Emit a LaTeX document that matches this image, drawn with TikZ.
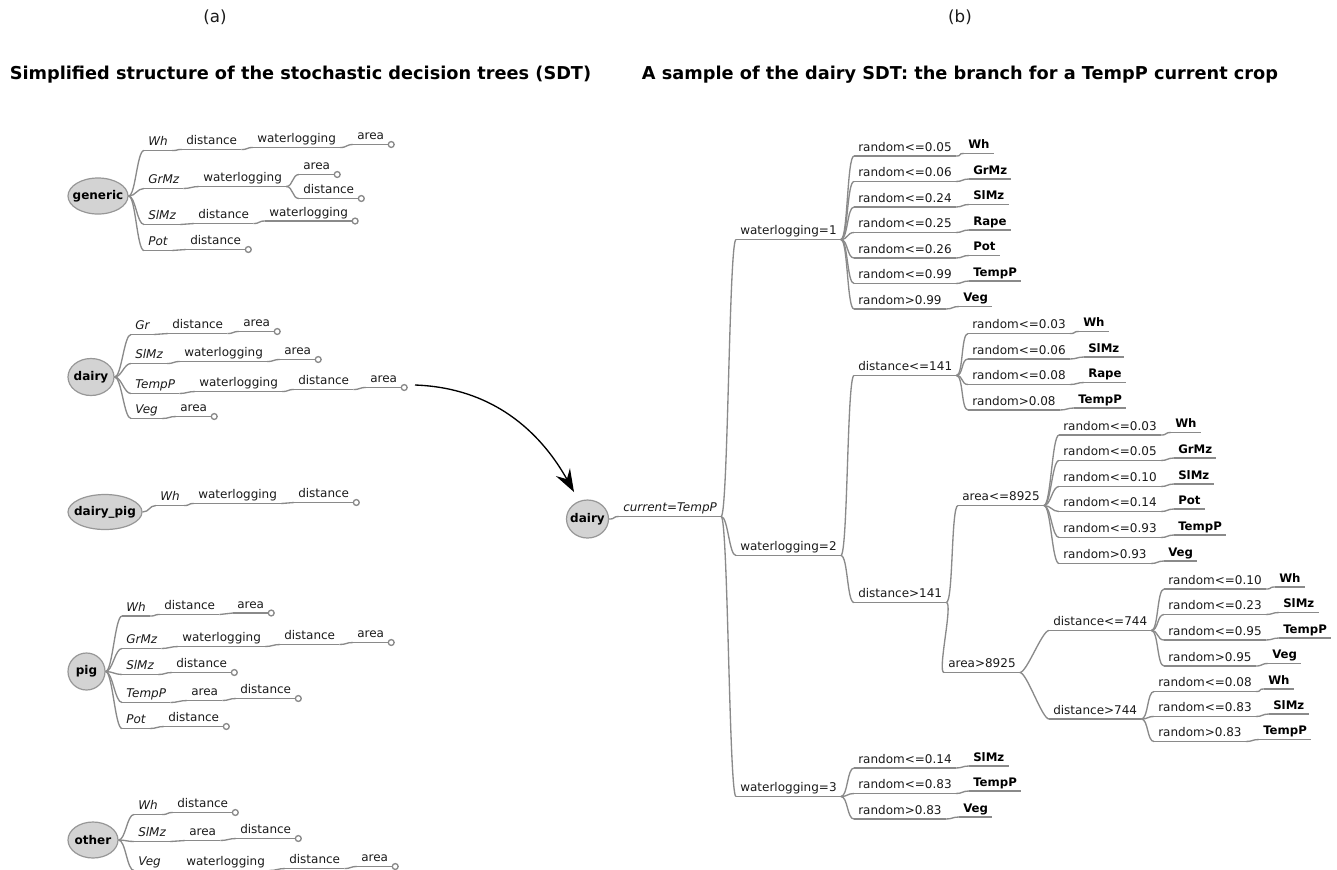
\documentclass[tikz,border=0pt]{standalone}
\usepackage{fontspec}
\setmainfont{DejaVu Sans}
\usetikzlibrary{shapes.geometric,arrows.meta}
\definecolor{lgray}{HTML}{8A8A8A}
\definecolor{efill}{HTML}{D3D3D3}
\definecolor{eborder}{HTML}{979797}
\definecolor{txt}{HTML}{1A1A1A}
\tikzset{
 ln/.style={draw=lgray, line width=1pt},
 lab/.style={anchor=south west, inner xsep=3pt, inner ysep=1.2pt, text height=7pt, text depth=2.2pt,
   font=\fontsize{9}{10}\selectfont, text=txt,
   append after command={(\tikzlastnode.south west) edge[ln] (\tikzlastnode.south east)}},
 itl/.style={lab, font=\fontsize{9}{10}\selectfont\itshape},
 lf/.style={lab, font=\fontsize{8.8}{10}\selectfont\bfseries, text=black},
 ell/.style={ellipse, draw=eborder, fill=efill, line width=0.9pt, inner sep=0pt,
   font=\fontsize{9}{10}\selectfont\bfseries, text=black},
 endc/.style={ln, fill=white},
 ttl/.style={font=\fontsize{13.3}{15}\selectfont\bfseries, text=black},
 sub/.style={font=\fontsize{12.5}{14}\selectfont, text=txt},
 arr/.style={draw=black, line width=1pt, -{Stealth[length=17pt,width=12pt,inset=6pt]}},
}
\newcommand\mmlink[2]{\draw[ln] (#1.south east) .. controls +(7,0) and +(-7,0) .. (#2.south west);}
\newcommand\mmroot[2]{\draw[ln] (#1.east) .. controls +(7,0) and +(-7,0) .. (#2.south west);}
\newcommand\mmtip[1]{\draw[endc] ([xshift=2.2pt]#1.south east) circle[radius=2.2pt];}
\begin{document}
\begin{tikzpicture}[x=0.75pt,y=-0.75pt]
\useasboundingbox (0,0) rectangle (1337,869);

% titles
\node[sub] (la) at (215,17) {(a)};
\node[sub] (lb) at (960,17) {(b)};
\node[ttl] (t1) at (300.5,75) {Simplified structure of the stochastic decision trees (SDT)};
\node[ttl] (t2) at (960,75) {A sample of the dairy SDT: the branch for a TempP current crop};

% ---------------- generic
\node[ell, minimum width=45pt, minimum height=27pt] (g) at (98,196) {\makebox[0pt]{generic}};
\node[itl] (gA) at (144,150.5) {Wh};
\node[lab] (gA1) at (182,149.5) {distance};
\node[lab] (gA2) at (253,147.5) {waterlogging};
\node[lab] (gA3) at (353,144.5) {area};
\node[itl] (gB) at (144,188.5) {GrMz};
\node[lab] (gB1) at (199,186.5) {waterlogging};
\node[lab] (gB2) at (299,174.5) {area};
\node[lab] (gB3) at (299,198.5) {distance};
\node[itl] (gC) at (144,224.5) {SlMz};
\node[lab] (gC1) at (194,223.5) {distance};
\node[lab] (gC2) at (265,221) {waterlogging};
\node[itl] (gD) at (144,250.5) {Pot};
\node[lab] (gD1) at (186,249.5) {distance};
\mmroot{g}{gA}\mmroot{g}{gB}\mmroot{g}{gC}\mmroot{g}{gD}
\mmlink{gA}{gA1}\mmlink{gA1}{gA2}\mmlink{gA2}{gA3}
\mmlink{gB}{gB1}\mmlink{gB1}{gB2}\mmlink{gB1}{gB3}
\mmlink{gC}{gC1}\mmlink{gC1}{gC2}
\mmlink{gD}{gD1}
\mmtip{gA3}\mmtip{gB2}\mmtip{gB3}\mmtip{gC2}\mmtip{gD1}

% ---------------- dairy
\node[ell, minimum width=34.5pt, minimum height=27.75pt] (d) at (91,377) {\makebox[0pt]{dairy}};
\node[itl] (dA) at (131,334.5) {Gr};
\node[lab] (dA1) at (168,333.5) {distance};
\node[lab] (dA2) at (239,331.5) {area};
\node[itl] (dB) at (131,363.5) {SlMz};
\node[lab] (dB1) at (180,361.5) {waterlogging};
\node[lab] (dB2) at (280,359.5) {area};
\node[itl] (dC) at (131,393.5) {TempP};
\node[lab] (dC1) at (195,391.5) {waterlogging};
\node[lab] (dC2) at (294,389.5) {distance};
\node[lab] (dC3) at (366,387.5) {area};
\node[itl] (dD) at (131,418.5) {Veg};
\node[lab] (dD1) at (176,416.5) {area};
\mmroot{d}{dA}\mmroot{d}{dB}\mmroot{d}{dC}\mmroot{d}{dD}
\mmlink{dA}{dA1}\mmlink{dA1}{dA2}
\mmlink{dB}{dB1}\mmlink{dB1}{dB2}
\mmlink{dC}{dC1}\mmlink{dC1}{dC2}\mmlink{dC2}{dC3}
\mmlink{dD}{dD1}
\mmtip{dA2}\mmtip{dB2}\mmtip{dC3}\mmtip{dD1}

% ---------------- dairy_pig
\node[ell, minimum width=55.5pt, minimum height=26.25pt] (dp) at (105,512) {\makebox[0pt]{dairy\_pig}};
\node[itl] (pA) at (156,505.5) {Wh};
\node[lab] (pA1) at (194,503.5) {waterlogging};
\node[lab] (pA2) at (294,502.5) {distance};
\mmroot{dp}{pA}
\mmlink{pA}{pA1}\mmlink{pA1}{pA2}
\mmtip{pA2}

% ---------------- pig
\node[ell, minimum width=27.75pt, minimum height=27.75pt] (pg) at (86.5,671.5) {\makebox[0pt]{pig}};
\node[itl] (qA) at (122,616) {Wh};
\node[lab] (qA1) at (160,614.5) {distance};
\node[lab] (qA2) at (233,613) {area};
\node[itl] (qB) at (122,648.5) {GrMz};
\node[lab] (qB1) at (178,646.5) {waterlogging};
\node[lab] (qB2) at (280,644.5) {distance};
\node[lab] (qB3) at (353,642.5) {area};
\node[itl] (qC) at (122,674.5) {SlMz};
\node[lab] (qC1) at (172,672.5) {distance};
\node[itl] (qD) at (122,702.5) {TempP};
\node[lab] (qD1) at (187,700.5) {area};
\node[lab] (qD2) at (236,698.5) {distance};
\node[itl] (qE) at (122,728.5) {Pot};
\node[lab] (qE1) at (164,726.5) {distance};
\mmroot{pg}{qA}\mmroot{pg}{qB}\mmroot{pg}{qC}\mmroot{pg}{qD}\mmroot{pg}{qE}
\mmlink{qA}{qA1}\mmlink{qA1}{qA2}
\mmlink{qB}{qB1}\mmlink{qB1}{qB2}\mmlink{qB2}{qB3}
\mmlink{qC}{qC1}
\mmlink{qD}{qD1}\mmlink{qD1}{qD2}
\mmlink{qE}{qE1}
\mmtip{qA2}\mmtip{qB3}\mmtip{qC1}\mmtip{qD2}\mmtip{qE1}

% ---------------- other
\node[ell, minimum width=37.5pt, minimum height=27pt] (ot) at (93,840) {\makebox[0pt]{other}};
\node[itl] (oA) at (134,814.5) {Wh};
\node[lab] (oA1) at (173,812.5) {distance};
\node[itl] (oB) at (134,841.5) {SlMz};
\node[lab] (oB1) at (185,840.5) {area};
\node[lab] (oB2) at (236,838.5) {distance};
\node[itl] (oC) at (134,870.5) {Veg};
\node[lab] (oC1) at (182,870.5) {waterlogging};
\node[lab] (oC2) at (285,868.5) {distance};
\node[lab] (oC3) at (357,866.5) {area};
\mmroot{ot}{oA}\mmroot{ot}{oB}\mmroot{ot}{oC}
\mmlink{oA}{oA1}
\mmlink{oB}{oB1}\mmlink{oB1}{oB2}
\mmlink{oC}{oC1}\mmlink{oC1}{oC2}\mmlink{oC2}{oC3}
\mmtip{oA1}\mmtip{oB2}\mmtip{oC3}

% ---------------- arrow
\coordinate (aS) at (415,385);
\coordinate (aE) at (574,492);
\draw[arr] (aS) .. controls (500,388) and (545,440) .. (aE);

% ---------------- right: dairy SDT
\node[ell, minimum width=31.5pt, minimum height=28.5pt] (rd) at (587.5,519) {\makebox[0pt]{dairy}};
\node[itl] (c0) at (619,516.5) {current=TempP};
\mmroot{rd}{c0}

% waterlogging=1
\node[lab] (w1) at (736,239.5) {waterlogging=1};
\mmlink{c0}{w1}
\node[lab] (w1r1) at (854,156) {random<=0.05};
\node[lab] (w1r2) at (854,181.5) {random<=0.06};
\node[lab] (w1r3) at (854,207) {random<=0.24};
\node[lab] (w1r4) at (854,232.5) {random<=0.25};
\node[lab] (w1r5) at (854,258) {random<=0.26};
\node[lab] (w1r6) at (854,283.5) {random<=0.99};
\node[lab] (w1r7) at (854,309) {random>0.99};
\node[lf] (w1l1) at (964,153.5) {Wh};
\node[lf] (w1l2) at (969,179) {GrMz};
\node[lf] (w1l3) at (969,204.5) {SlMz};
\node[lf] (w1l4) at (969,230) {Rape};
\node[lf] (w1l5) at (969,255.5) {Pot};
\node[lf] (w1l6) at (969,281) {TempP};
\node[lf] (w1l7) at (959,306.5) {Veg};
\foreach \i in {1,...,7}{\mmlink{w1}{w1r\i}\mmlink{w1r\i}{w1l\i}}

% waterlogging=2
\node[lab] (w2) at (736,555.5) {waterlogging=2};
\mmlink{c0}{w2}
\node[lab] (e1) at (854,375.5) {distance<=141};
\node[lab] (e2) at (854,602.5) {distance>141};
\mmlink{w2}{e1}\mmlink{w2}{e2}
\node[lab] (e1r1) at (968,333.5) {random<=0.03};
\node[lab] (e1r2) at (968,359) {random<=0.06};
\node[lab] (e1r3) at (968,384.5) {random<=0.08};
\node[lab] (e1r4) at (968,410) {random>0.08};
\node[lf] (e1l1) at (1079,331.5) {Wh};
\node[lf] (e1l2) at (1084,357) {SlMz};
\node[lf] (e1l3) at (1084,382.5) {Rape};
\node[lf] (e1l4) at (1074,408) {TempP};
\foreach \i in {1,...,4}{\mmlink{e1}{e1r\i}\mmlink{e1r\i}{e1l\i}}

\node[lab] (f1) at (958,505.5) {area<=8925};
\node[lab] (f2) at (944,672.5) {area>8925};
\mmlink{e2}{f1}\mmlink{e2}{f2}
\node[lab] (f1r1) at (1059,435) {random<=0.03};
\node[lab] (f1r2) at (1059,460.5) {random<=0.05};
\node[lab] (f1r3) at (1059,486.5) {random<=0.10};
\node[lab] (f1r4) at (1059,511.5) {random<=0.14};
\node[lab] (f1r5) at (1059,537.5) {random<=0.93};
\node[lab] (f1r6) at (1059,563.5) {random>0.93};
\node[lf] (f1l1) at (1171,432.5) {Wh};
\node[lf] (f1l2) at (1174,458) {GrMz};
\node[lf] (f1l3) at (1174,484) {SlMz};
\node[lf] (f1l4) at (1174,509) {Pot};
\node[lf] (f1l5) at (1174,535) {TempP};
\node[lf] (f1l6) at (1164,561) {Veg};
\foreach \i in {1,...,6}{\mmlink{f1}{f1r\i}\mmlink{f1r\i}{f1l\i}}

\node[lab] (h1) at (1049,630.5) {distance<=744};
\node[lab] (h2) at (1049,719) {distance>744};
\mmlink{f2}{h1}\mmlink{f2}{h2}
\node[lab] (h1r1) at (1164,589) {random<=0.10};
\node[lab] (h1r2) at (1164,614.5) {random<=0.23};
\node[lab] (h1r3) at (1164,640) {random<=0.95};
\node[lab] (h1r4) at (1164,666) {random>0.95};
\node[lf] (h1l1) at (1275,587) {Wh};
\node[lf] (h1l2) at (1279,612.5) {SlMz};
\node[lf] (h1l3) at (1279,638) {TempP};
\node[lf] (h1l4) at (1268,663.5) {Veg};
\foreach \i in {1,...,4}{\mmlink{h1}{h1r\i}\mmlink{h1r\i}{h1l\i}}
\node[lab] (h2r1) at (1154,691.5) {random<=0.08};
\node[lab] (h2r2) at (1154,716.5) {random<=0.83};
\node[lab] (h2r3) at (1154,741.5) {random>0.83};
\node[lf] (h2l1) at (1264,689) {Wh};
\node[lf] (h2l2) at (1269,714) {SlMz};
\node[lf] (h2l3) at (1259,739.5) {TempP};
\foreach \i in {1,...,3}{\mmlink{h2}{h2r\i}\mmlink{h2r\i}{h2l\i}}

% waterlogging=3
\node[lab] (w3) at (736,796.5) {waterlogging=3};
\mmlink{c0}{w3}
\node[lab] (w3r1) at (854,768) {random<=0.14};
\node[lab] (w3r2) at (854,793.5) {random<=0.83};
\node[lab] (w3r3) at (854,819) {random>0.83};
\node[lf] (w3l1) at (969,766) {SlMz};
\node[lf] (w3l2) at (969,791) {TempP};
\node[lf] (w3l3) at (959,817) {Veg};
\foreach \i in {1,...,3}{\mmlink{w3}{w3r\i}\mmlink{w3r\i}{w3l\i}}
\end{tikzpicture}
\end{document}
